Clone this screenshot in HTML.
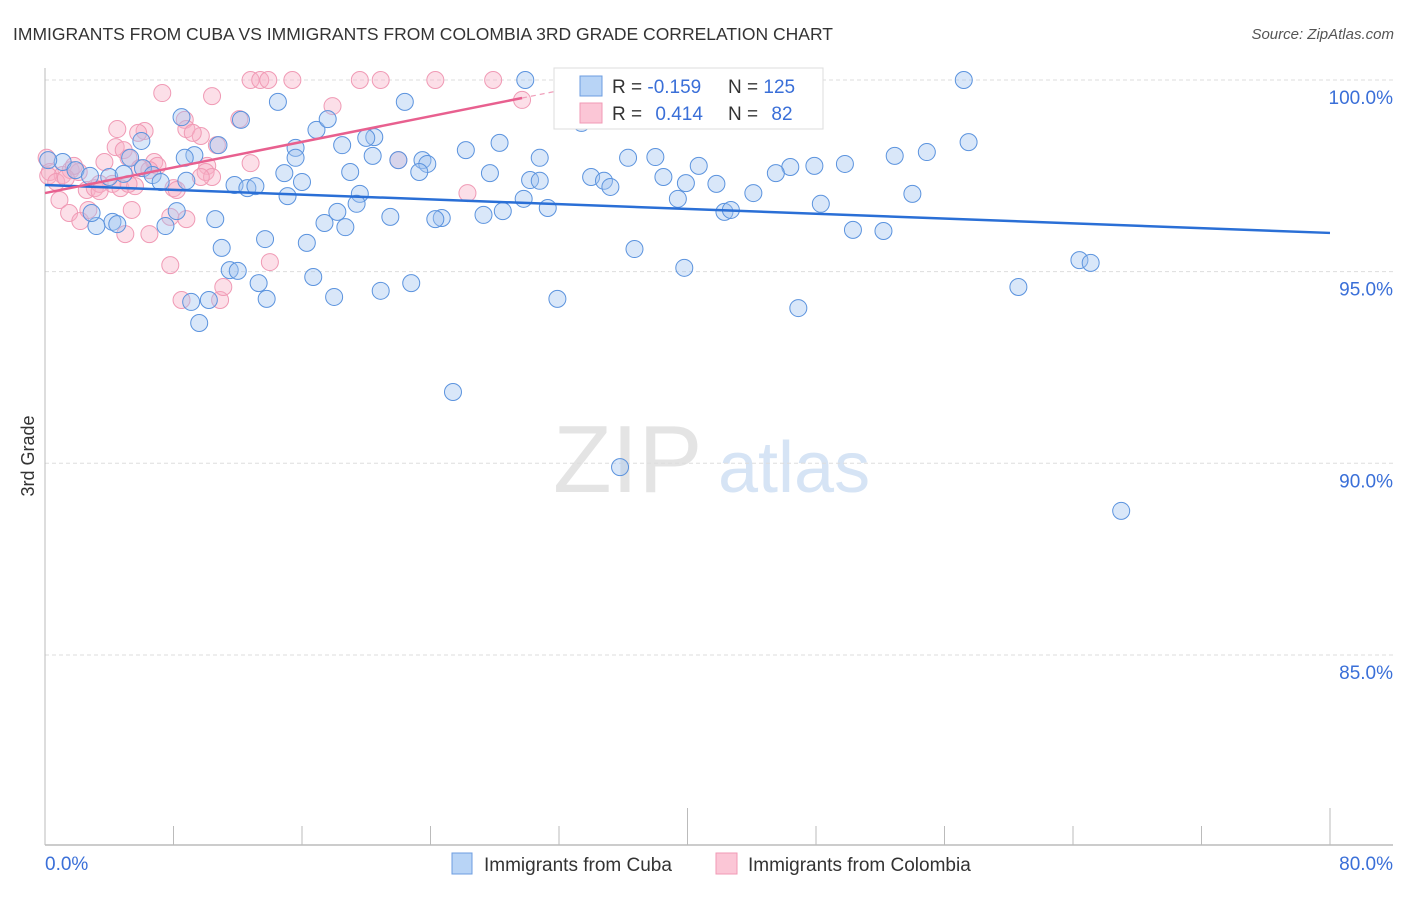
<!DOCTYPE html>
<html><head><meta charset="utf-8"><style>
body{margin:0;background:#fff;font-family:"Liberation Sans",sans-serif}
svg text{font-family:"Liberation Sans",sans-serif}
</style></head><body>
<svg width="1406" height="892" viewBox="0 0 1406 892">
<text x="13" y="40" font-size="17.5" fill="#333">IMMIGRANTS FROM CUBA VS IMMIGRANTS FROM COLOMBIA 3RD GRADE CORRELATION CHART</text>
<text x="1394" y="39" font-size="15" fill="#555" font-style="italic" text-anchor="end">Source: ZipAtlas.com</text>
<g>
<text x="553" y="492" font-size="96" fill="#e4e4e4" font-family="Liberation Serif">ZIP</text>
<text x="718" y="492" font-size="72" fill="#d6e4f5">atlas</text>
</g>
<g id="grid"></g>
<g id="axes"></g>
<g id="pts"></g>
<g id="trend"></g>
<text transform="translate(34,456) rotate(-90)" font-size="18" fill="#333" text-anchor="middle">3rd Grade</text>
<g>
<rect x="554" y="68" width="269" height="61" fill="#fff" stroke="#ddd"/>
<rect x="580" y="76" width="22" height="20" fill="#b8d4f6" stroke="#6c9de0"/>
<rect x="580" y="103" width="22" height="20" fill="#fbc6d6" stroke="#f09ab5"/>
<text x="612" y="93" font-size="19" fill="#333">R = <tspan fill="#3a6fd8">-0.159</tspan></text>
<text x="728" y="93" font-size="19" fill="#333">N = <tspan fill="#3a6fd8">125</tspan></text>
<text x="612" y="120" font-size="19" fill="#333">R = <tspan fill="#3a6fd8" dx="8">0.414</tspan></text>
<text x="728" y="120" font-size="19" fill="#333">N = <tspan fill="#3a6fd8" dx="8">82</tspan></text>
</g>
<g>
<rect x="452" y="853" width="20" height="21" fill="#b8d4f6" stroke="#6c9de0"/>
<text x="484" y="871" font-size="19" fill="#333">Immigrants from Cuba</text>
<rect x="716" y="853" width="21" height="21" fill="#fbc6d6" stroke="#f09ab5"/>
<text x="748" y="871" font-size="19" fill="#333">Immigrants from Colombia</text>
</g>
</svg>
<script>
const yTicks=[100,95,90,85];
const yTickLabels=["100.0%","95.0%","90.0%","85.0%"];
const xTickLabels=["0.0%","80.0%"];
const cubaX=[29.9,57.2,8.5,14.5,22.4,12.2,16.9,17.6,20.5,20.0,33.4,57.5,28.3,26.2,10.8,9.3,8.7,15.6,15.6,18.5,20.4,22.0,23.5,23.8,23.3,30.8,36.3,38.0,40.7,46.4,47.9,49.8,52.9,54.9,6.0,5.3,1.1,0.2,1.9,2.8,4.0,4.9,6.1,6.7,7.2,8.8,11.8,12.6,13.1,14.9,16.0,15.1,19.0,19.6,19.4,27.7,29.8,30.2,30.8,34.0,34.8,35.2,38.5,39.9,41.8,44.1,45.5,39.4,42.3,42.7,48.3,54.0,31.3,28.5,27.3,24.7,24.3,21.5,18.2,17.4,18.7,10.6,8.2,7.5,4.2,4.5,3.2,2.9,13.7,11.0,16.3,11.5,12.0,13.3,16.7,36.7,39.8,50.3,52.2,64.4,65.1,60.6,13.8,10.2,9.1,9.6,18.0,20.9,22.8,31.9,46.9,25.4,35.8,67.0];
const cubaY=[100,100,99.03,99.43,99.43,98.96,98.70,98.98,98.51,98.49,98.88,98.38,98.36,98.17,98.30,98.04,97.97,98.23,97.97,98.30,98.02,97.91,97.91,97.81,97.60,97.97,97.97,97.99,97.76,97.73,97.76,97.81,98.02,98.12,98.41,97.97,97.86,97.91,97.65,97.50,97.47,97.55,97.70,97.52,97.34,97.37,97.26,97.18,97.23,97.57,97.34,96.97,97.60,97.03,96.77,97.57,96.90,97.39,97.37,97.47,97.37,97.21,97.47,97.31,97.29,97.05,97.57,96.90,96.56,96.61,96.77,97.03,96.66,96.58,96.48,96.40,96.37,96.43,96.56,96.27,96.16,96.37,96.58,96.19,96.30,96.24,96.19,96.53,95.85,95.62,95.75,95.04,95.02,94.70,94.86,95.59,95.10,96.09,96.06,95.30,95.23,94.60,94.29,94.26,94.21,93.66,94.34,94.50,94.70,94.29,94.05,91.86,89.90,88.76];
const colX=[12.8,13.4,13.9,15.4,19.6,20.9,24.3,27.9,7.3,10.4,17.9,29.7,12.1,8.7,8.8,4.5,6.2,5.8,9.7,9.2,10.7,4.4,4.9,5.2,3.7,0.1,0.3,1.1,1.6,2.1,2.6,3.1,3.4,4.2,1.8,6.8,7.0,10.1,10.0,10.4,9.7,12.8,8.0,8.2,5.9,6.5,0.9,1.5,2.2,2.7,5.4,5.0,6.5,7.8,8.8,7.8,8.5,10.9,11.1,14.0,26.3,22.0,0.2,0.7,4.7,5.6,3.4,1.3,5.2];
const colY=[100,100,100,100,100,100,100,100,99.66,99.58,99.32,99.48,98.98,98.96,98.72,98.72,98.67,98.62,98.54,98.62,98.30,98.25,98.17,97.97,97.86,97.97,97.60,97.52,97.65,97.60,97.13,97.18,97.29,97.29,97.76,97.86,97.76,97.76,97.60,97.47,97.47,97.83,97.18,97.13,97.70,97.65,96.87,96.53,96.32,96.61,96.61,95.98,95.98,96.43,96.37,95.17,94.26,94.26,94.60,95.25,97.05,97.91,97.50,97.34,97.18,97.23,97.10,97.44,97.29];
const trendCubaX=[0,80], trendCubaY=[97.26,96.01];
const trendColX=[0,29.7], trendColY=[97.05,99.53];
const NS="http://www.w3.org/2000/svg";
function sx(v){return 45+v*1285/80;}
function sy(v){return 80+(100-v)*38.33;}
function mk(tag,attrs,parent){const e=document.createElementNS(NS,tag);for(const k in attrs)e.setAttribute(k,attrs[k]);parent.appendChild(e);return e;}
const grid=document.getElementById('grid'),axes=document.getElementById('axes'),pts=document.getElementById('pts'),trend=document.getElementById('trend');
yTicks.forEach((t,i)=>{
 const l=mk('line',{x1:45,x2:1393,y1:sy(t),y2:sy(t),stroke:'#ddd','stroke-dasharray':'4,3'},grid);
 
 
 const tx=mk('text',{x:1393,y:sy(t)+24,'font-size':19,fill:'#3a6fd8','text-anchor':'end'},axes);
 tx.textContent=yTickLabels[i];
 
 
});
const al=mk('line',{x1:45,x2:45,y1:68,y2:845,stroke:'#bbb'},axes);


const bl=mk('line',{x1:45,x2:1393,y1:845,y2:845,stroke:'#bbb','stroke-width':1.5},axes);


for(let i=0;i<=10;i++){
 const v=i*8;const big=(i==5||i==10);
 const tk=mk('line',{x1:sx(v),x2:sx(v),y1:big?808:826,y2:845,stroke:'#bbb'},axes);
 
 
}
const x0=mk('text',{x:45,y:870,'font-size':19,fill:'#3a6fd8'},axes);x0.textContent=xTickLabels[0];


const x1=mk('text',{x:1393,y:870,'font-size':19,fill:'#3a6fd8','text-anchor':'end'},axes);x1.textContent=xTickLabels[1];


colX.forEach((v,i)=>{
 const c=mk('circle',{cx:sx(v),cy:sy(colY[i]),r:8.5,fill:'rgba(248,175,198,0.4)',stroke:'#f09ab5','stroke-width':1},pts);
 
 
});
cubaX.forEach((v,i)=>{
 const c=mk('circle',{cx:sx(v),cy:sy(cubaY[i]),r:8.5,fill:'rgba(160,196,240,0.4)',stroke:'#5b93de','stroke-width':1},pts);
 
 
});
const tc=mk('line',{x1:sx(trendCubaX[0]),y1:sy(trendCubaY[0]),x2:sx(trendCubaX[1]),y2:sy(trendCubaY[1]),stroke:'#2a6fd6','stroke-width':2.5},trend);


const tp=mk('line',{x1:sx(trendColX[0]),y1:sy(trendColY[0]),x2:sx(trendColX[1]),y2:sy(trendColY[1]),stroke:'#e8608f','stroke-width':2.5},trend);


const slope=(trendColY[1]-trendColY[0])/(trendColX[1]-trendColX[0]);
const ex=trendColX[1]+2.2;
const td=mk('line',{x1:sx(trendColX[1]),y1:sy(trendColY[1]),x2:sx(ex),y2:sy(trendColY[1]+slope*2.2),stroke:'#f0a0bb','stroke-width':1.2,'stroke-dasharray':'5,4'},trend);


</script>
</body></html>
